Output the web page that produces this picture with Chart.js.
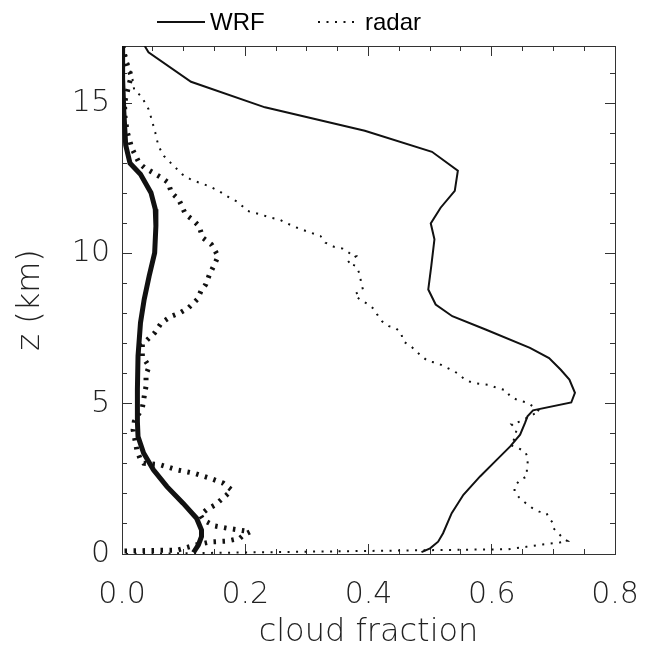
<!DOCTYPE html>
<html>
<head>
<meta charset="utf-8">
<script src="https://cdn.jsdelivr.net/npm/chart.js@4/dist/chart.umd.min.js"></script>
<style>
  html, body { margin: 0; padding: 0; background: #fff; overflow: hidden; }
  canvas { display: block; }
</style>
</head>
<body>
<canvas id="myChart" width="645" height="652"></canvas>
<script>
// WRF profile (thin solid), height in km / cloud fraction
var wrfZ = [16.93, 16.69, 15.71, 14.86, 14.08, 13.38, 12.75, 12.08, 11.52, 11.0, 10.47, 9.6, 8.8, 8.3, 7.91, 7.47,
    6.86, 6.52, 6.13, 5.8, 5.36, 5.04, 4.78, 4.58, 4.36, 3.97, 3.58, 3.13, 2.58, 1.97, 1.36, 0.69, 0.41, 0.19, 0.06];
var wrfFrac = [0.036, 0.043, 0.112, 0.232, 0.394, 0.503, 0.545, 0.540, 0.517, 0.501, 0.507, 0.502, 0.497, 0.509, 0.536, 0.590,
    0.662, 0.693, 0.712, 0.726, 0.735, 0.729, 0.667, 0.658, 0.654, 0.646, 0.630, 0.608, 0.581, 0.554, 0.535, 0.521, 0.513, 0.500, 0.486];

// radar profile (thin dotted)
var radarZ = [16.9, 16.5, 16.1, 15.8, 15.41, 15.24, 14.8, 14.47, 14.02, 13.58, 13.24, 12.91, 12.63, 12.44, 12.33, 12.22,
    12.08, 11.86, 11.71, 11.41, 11.3, 11.19, 11.13, 10.91, 10.74, 10.58, 10.36, 10.22, 10.16, 9.97, 9.91, 9.69,
    9.58, 9.3, 9.02, 8.8, 8.63, 8.47, 8.3, 8.13, 7.97, 7.74, 7.58, 7.52, 7.36, 7.08, 6.91, 6.58,
    6.41, 6.36, 6.13, 5.97, 5.8, 5.69, 5.63, 5.52, 5.45, 5.24, 5.11, 5.04, 4.91, 4.74, 4.67, 4.41,
    4.32, 4.13, 3.86, 3.63, 3.52, 3.41, 3.19, 2.82, 2.58, 2.47, 2.24, 2.08, 1.89, 1.71, 1.54, 1.41,
    1.36, 1.22, 1.04, 0.86, 0.69, 0.52, 0.43, 0.38, 0.32, 0.24, 0.16, 0.0];
var radarFrac = [0.004, 0.008, 0.013, 0.017, 0.020, 0.031, 0.043, 0.048, 0.054, 0.059, 0.068, 0.084, 0.098, 0.113, 0.129, 0.143,
    0.157, 0.174, 0.188, 0.204, 0.224, 0.241, 0.255, 0.277, 0.299, 0.322, 0.330, 0.344, 0.358, 0.372, 0.380, 0.366,
    0.380, 0.386, 0.388, 0.391, 0.377, 0.386, 0.400, 0.410, 0.414, 0.422, 0.433, 0.444, 0.453, 0.456, 0.469, 0.486,
    0.497, 0.511, 0.534, 0.548, 0.556, 0.570, 0.595, 0.609, 0.623, 0.630, 0.643, 0.657, 0.667, 0.678, 0.670, 0.646,
    0.632, 0.640, 0.638, 0.630, 0.643, 0.654, 0.659, 0.657, 0.657, 0.646, 0.637, 0.637, 0.644, 0.654, 0.665, 0.677,
    0.689, 0.692, 0.699, 0.700, 0.708, 0.716, 0.723, 0.710, 0.683, 0.656, 0.627, 0.0];

// thick solid profile
var thickZ = [16.9, 15.8, 14.7, 13.6, 13.0, 12.63, 12.02, 11.47, 10.91, 10.02, 9.24, 8.47, 7.69, 6.58, 5.47, 4.4,
    3.91, 3.36, 2.8, 2.24, 1.69, 1.19, 0.8, 0.58, 0.3, 0.05];
var thickFrac = [0.000, 0.001, 0.003, 0.006, 0.013, 0.030, 0.047, 0.054, 0.055, 0.053, 0.044, 0.036, 0.030, 0.026, 0.025, 0.025,
    0.026, 0.035, 0.051, 0.073, 0.099, 0.121, 0.129, 0.129, 0.124, 0.116];

// thick dotted profile
var thickDotZ = [16.9, 16.3, 15.9, 15.5, 15.0, 14.5, 14.0, 13.5, 13.0, 12.86, 12.69, 12.52, 12.36, 12.02, 11.8, 11.3,
    11.13, 10.91, 10.52, 10.3, 9.91, 9.63, 9.3, 8.97, 8.74, 8.47, 8.19, 8.02, 7.91, 7.69, 7.36, 6.97,
    6.58, 6.24, 5.97, 5.58, 5.24, 4.86, 4.41, 4.13, 3.8, 3.47, 3.19, 3.02, 2.97, 2.8, 2.69, 2.52,
    2.36, 2.13, 1.97, 1.86, 1.63, 1.47, 1.3, 1.13, 0.93, 0.86, 0.8, 0.74, 0.63, 0.52, 0.43, 0.4,
    0.3, 0.13, 0.1];
var thickDotFrac = [0.000, 0.008, 0.015, 0.010, 0.004, 0.005, 0.009, 0.016, 0.028, 0.036, 0.050, 0.064, 0.075, 0.080, 0.092, 0.103,
    0.114, 0.125, 0.131, 0.145, 0.156, 0.150, 0.142, 0.136, 0.128, 0.122, 0.108, 0.094, 0.080, 0.064, 0.053, 0.033,
    0.033, 0.044, 0.039, 0.039, 0.036, 0.033, 0.020, 0.018, 0.021, 0.024, 0.029, 0.035, 0.062, 0.089, 0.116, 0.143,
    0.164, 0.178, 0.170, 0.164, 0.151, 0.137, 0.127, 0.132, 0.151, 0.170, 0.189, 0.208, 0.197, 0.191, 0.170, 0.143,
    0.120, 0.090, 0.0];

var legendNames = ['WRF', 'radar'];
var xTickLabels = ['0.0', '0.2', '0.4', '0.6', '0.8'];
var yTickLabels = ['0', '5', '10', '15'];

function pts(zs, fs) {
    return zs.map(function (z, i) { return { x: fs[i], y: z }; });
}

var tickFont = { family: "'DejaVu Sans', sans-serif", size: 30, weight: 200 };
var titleFont = { family: "'DejaVu Sans', sans-serif", size: 32, weight: 200 };

// extra axes that only draw inward tick marks (frame sides / major ticks)
function tickAxis(pos, max, step, len) {
    return {
        type: 'linear', position: pos, min: 0, max: max, weight: 0,
        afterFit: function (s) { if (s.isHorizontal()) { s.height = 0; } else { s.width = 0; } },
        border: { display: true, color: '#333', width: 1 },
        grid: { drawOnChartArea: false, drawTicks: true, tickLength: -len, tickColor: '#333', tickWidth: 1 },
        ticks: { display: false, stepSize: step, autoSkip: false, includeBounds: false }
    };
}

var topLegend = {
    id: 'topLegend',
    afterDraw: function (chart) {
        var ctx = chart.ctx;
        var spots = [[157, 205, 210], [318, 358, 365]];
        ctx.save();
        ctx.font = '24px "Liberation Sans", Arial, sans-serif';
        ctx.textBaseline = 'middle';
        ctx.fillStyle = '#000';
        for (var i = 0; i < 2; i++) {
            var ds = chart.data.datasets[i];
            ctx.beginPath();
            ctx.strokeStyle = ds.borderColor;
            ctx.lineWidth = ds.borderWidth;
            ctx.setLineDash(ds.borderDash || []);
            ctx.moveTo(spots[i][0], 22);
            ctx.lineTo(spots[i][1], 22);
            ctx.stroke();
            ctx.setLineDash([]);
            ctx.fillText(legendNames[i], spots[i][2], 23);
        }
        ctx.restore();
    }
};

const ctx = document.getElementById('myChart');
new Chart(ctx, {
    type: 'scatter',
    data: {
        datasets: [
            { label: legendNames[0], data: pts(wrfZ, wrfFrac), showLine: true, borderColor: '#111', borderWidth: 2, pointRadius: 0 },
            { label: legendNames[1], data: pts(radarZ, radarFrac), showLine: true, borderColor: '#111', borderWidth: 2, borderDash: [2, 6.5], pointRadius: 0 },
            { label: 'WRF mean', data: pts(thickZ, thickFrac), showLine: true, borderColor: '#111', borderWidth: 5, pointRadius: 0 },
            { label: 'radar mean', data: pts(thickDotZ, thickDotFrac), showLine: true, borderColor: '#111', borderWidth: 5, borderDash: [2.5, 6.5], pointRadius: 0 }
        ]
    },
    options: {
        responsive: false,
        animation: false,
        devicePixelRatio: 1,
        layout: { padding: { top: 46, right: 30, left: 0, bottom: 0 } },
        plugins: { legend: { display: false }, tooltip: { enabled: false } },
        scales: {
            x: {
                // labelled axis: its own tick marks are hidden, the offset replaces label padding
                type: 'linear', position: 'bottom', min: 0, max: 0.8, weight: 1,
                afterFit: function (s) { s.height = 98; },
                border: { display: true, color: '#333', width: 1 },
                grid: { drawOnChartArea: false, tickLength: 23, tickColor: 'rgba(0,0,0,0)' },
                ticks: {
                    stepSize: 0.2, autoSkip: false, includeBounds: false, maxRotation: 0,
                    padding: 0, color: '#222', font: tickFont,
                    callback: function (v, i) { return xTickLabels[i]; }
                },
                title: { display: true, text: 'cloud fraction', color: '#222', font: titleFont, padding: { top: 0, bottom: 0 } }
            },
            y: {
                type: 'linear', position: 'left', min: 0, max: 16.9, weight: 1,
                afterFit: function (s) { s.width = 122; },
                border: { display: true, color: '#333', width: 1 },
                grid: { drawOnChartArea: false, tickLength: -5, tickColor: '#333' },
                ticks: {
                    stepSize: 1, autoSkip: false, includeBounds: false,
                    padding: 17, color: '#222', font: tickFont,
                    callback: function (v) { return v % 5 === 0 ? yTickLabels[v / 5] : ''; }
                },
                title: { display: true, text: 'z (km)', color: '#222', font: titleFont, padding: { top: 11, bottom: 0 } }
            },
            xMin: tickAxis('bottom', 0.8, 0.05, 5),
            xMaj: tickAxis('bottom', 0.8, 0.2, 10),
            xTop: tickAxis('top', 0.8, 0.05, 5),
            xTopMaj: tickAxis('top', 0.8, 0.2, 10),
            yMaj: tickAxis('left', 16.9, 5, 10),
            yRight: tickAxis('right', 16.9, 1, 5),
            yRightMaj: tickAxis('right', 16.9, 5, 10)
        }
    },
    plugins: [topLegend]
});
</script>
</body>
</html>
